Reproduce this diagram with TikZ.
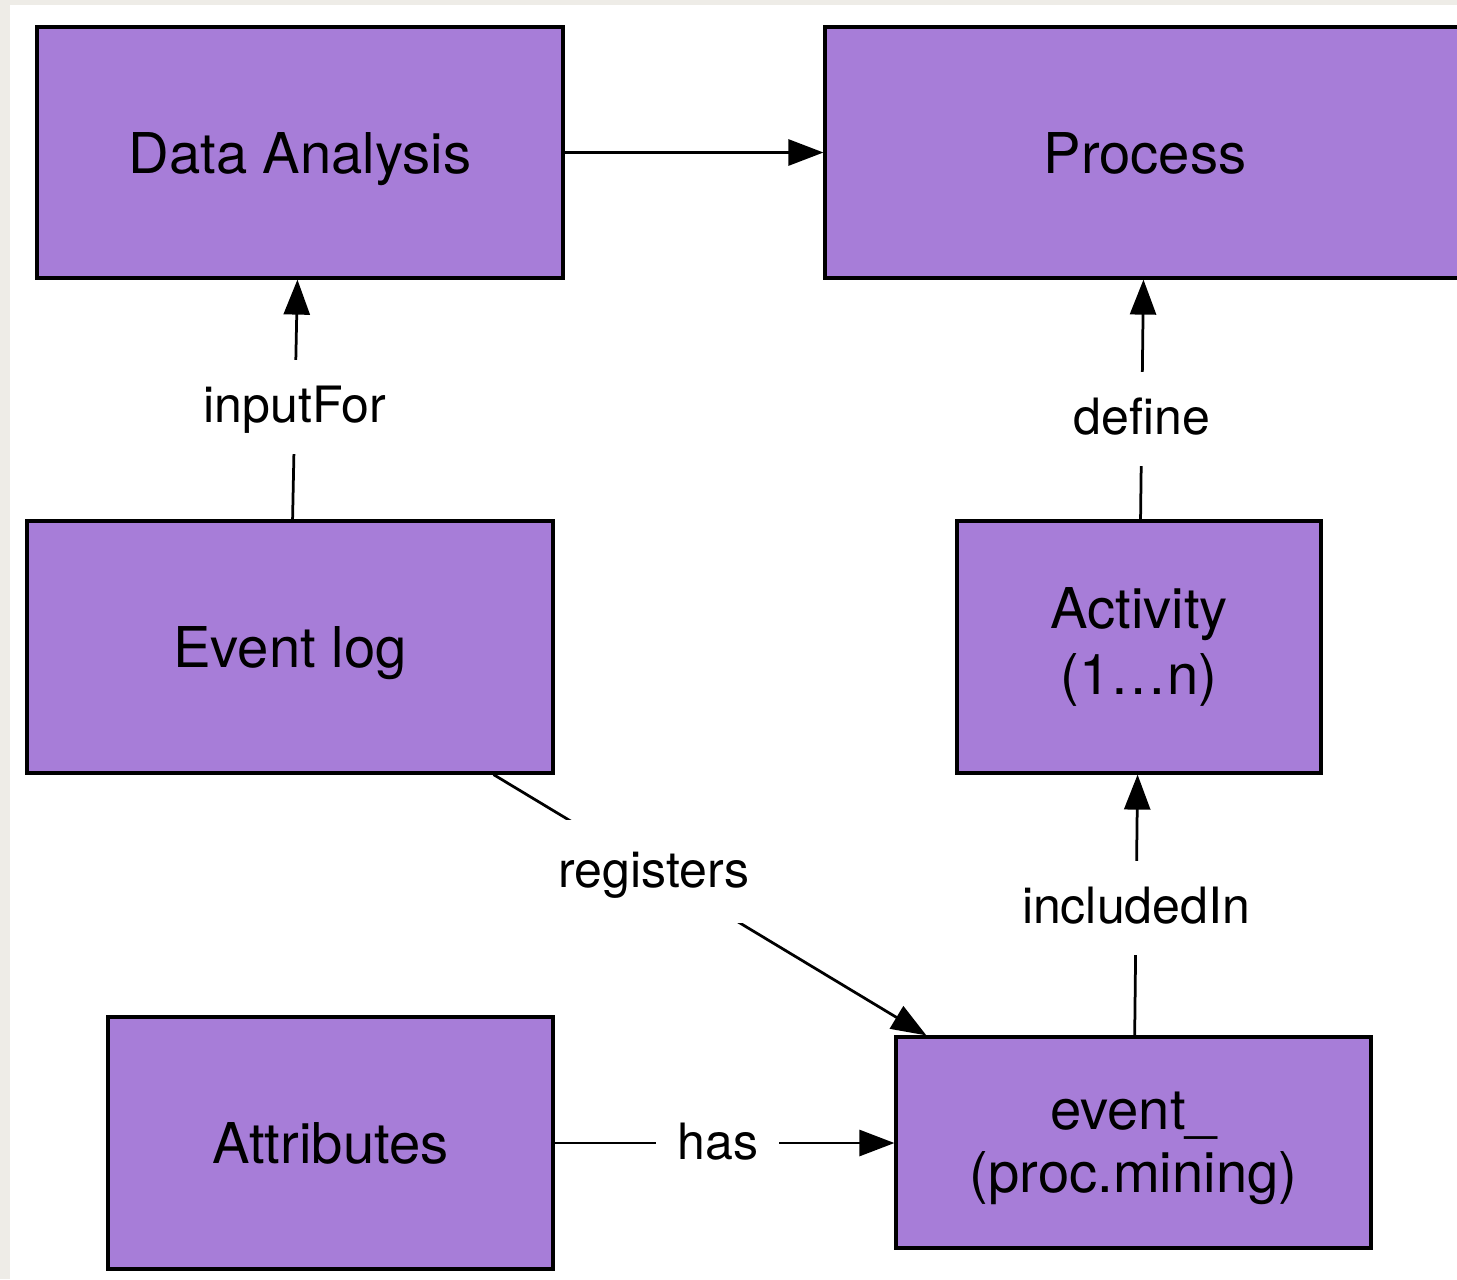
\documentclass[tikz,border=0pt]{standalone}
\usepackage{fontspec}
\setmainfont{TeX Gyre Heros}
\usetikzlibrary{calc,arrows.meta}
\definecolor{boxpurple}{RGB}{167,125,216}
\definecolor{paper}{RGB}{238,236,231}

\begin{document}
\begin{tikzpicture}[
    x=0.02cm, y=-0.02cm,
    >={Triangle[length=0.7cm,width=0.52cm]},
    box/.style={draw=black,line width=0.065cm,fill=boxpurple,inner sep=0,align=center,
      font=\fontsize{32}{37.5}\selectfont},
    oneline/.style={text height=0.82cm,text depth=0cm},
    rel/.style={->,line width=0.055cm},
    lbl/.style={fill=white,inner xsep=0.42cm,inner ysep=0.52cm,text height=0.74cm,text depth=0.1cm,
      font=\fontsize{28.5}{34}\selectfont}
    ]
% FRAME
\useasboundingbox (0,0) rectangle (1457,1279);
\clip (0,0) rectangle (1457,1279);
\fill[paper] (0,0) rectangle (1457,1279);
\fill[white] (10,5) rectangle (1457,1279);

% BOXES
\node[box,oneline,minimum width=10.52cm,minimum height=5.02cm] (da) at (300,152.5) {Data Analysis};
\node[box,oneline,minimum width=12.8cm,minimum height=5.02cm] (pr) at (1145,152.5) {Process};
\node[box,oneline,minimum width=10.52cm,minimum height=5.04cm] (ev) at (290,647) {Event log};
\node[box,minimum width=7.28cm,minimum height=5.04cm] (act) at (1139,647) {Activity\\(1…n)};
\node[box,oneline,minimum width=8.9cm,minimum height=5.04cm] (att) at (330.5,1143) {Attributes};
\node[box,minimum width=9.5cm,minimum height=4.22cm,text depth=0cm] (pm) at (1133.5,1142.5)
    {event\_\\[-1.5pt](proc.mining)};

% RELATIONS
\draw[rel] (da.east) -- (pr.west);
\draw[rel] (ev) -- node[lbl,pos=0.47] (inputfor) {inputFor} (da);
\draw[rel] (act) -- node[lbl,pos=0.42] (define) {define} (pr);
\draw[rel] (pm) -- node[lbl,pos=0.49] (includedin) {includedIn} (act);
\draw[rel] ($(ev.south east)+(-61,0)$) -- node[lbl,pos=0.37,inner ysep=0.61cm] (registers) {registers}
    ($(pm.north west)+(32,0)$);
\draw[rel] (att.east) -- node[lbl,pos=0.48] (has) {has} (att.east -| pm.west);
\end{tikzpicture}
\end{document}
